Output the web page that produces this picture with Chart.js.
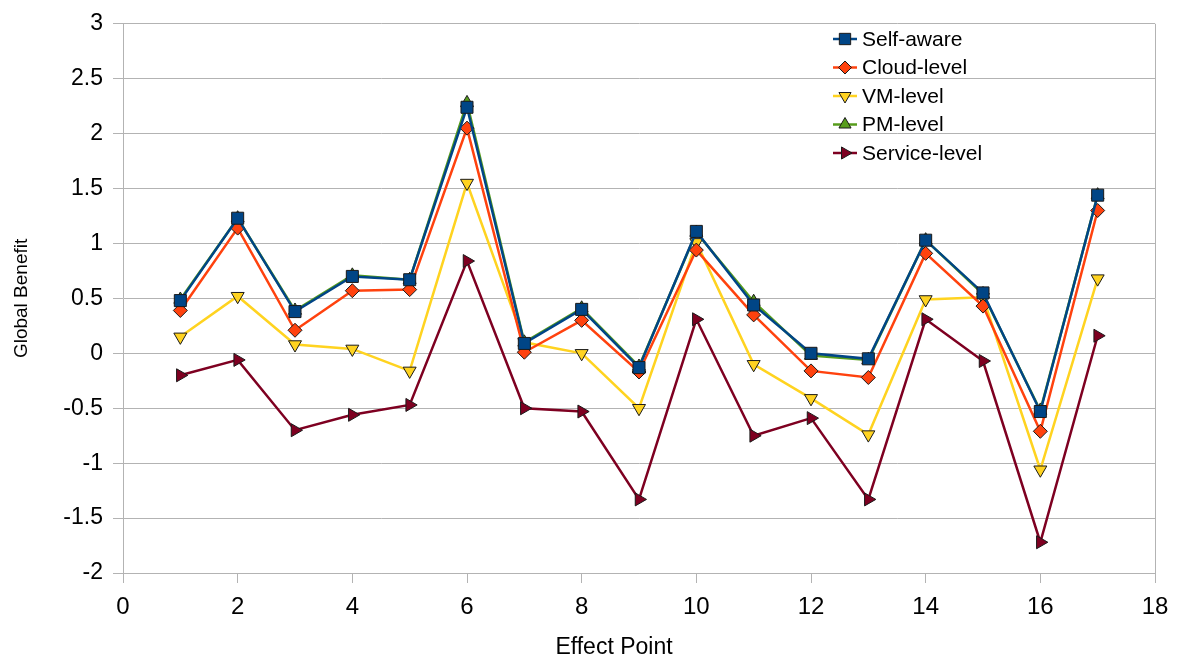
<!DOCTYPE html>
<html>
<head>
<meta charset="utf-8">
<script src="https://cdn.jsdelivr.net/npm/chart.js@4/dist/chart.umd.min.js"></script>
<style>
  html, body { margin: 0; padding: 0; background: #fff; }
</style>
</head>
<body>
<canvas id="myChart" width="1181" height="662"></canvas>
<script>
// Global benefit per effect point

const effectPoints = [1, 2, 3, 4, 5, 6, 7, 8, 9, 10, 11, 12, 13, 14, 15, 16, 17];

const selfAware = [0.48, 1.23, 0.38, 0.70, 0.67, 2.24, 0.09, 0.40, -0.13, 1.11, 0.44, 0.00, -0.05, 1.03, 0.55, -0.53, 1.44];
const cloudLevel = [0.39, 1.14, 0.21, 0.57, 0.58, 2.05, 0.01, 0.30, -0.17, 0.94, 0.35, -0.16, -0.22, 0.91, 0.43, -0.71, 1.30];
const vmLevel = [0.15, 0.52, 0.08, 0.04, -0.16, 1.55, 0.10, 0.00, -0.50, 1.01, -0.10, -0.41, -0.74, 0.49, 0.51, -1.06, 0.68];
const pmLevel = [0.49, 1.23, 0.39, 0.71, 0.67, 2.28, 0.10, 0.41, -0.12, 1.10, 0.47, -0.02, -0.06, 1.03, 0.54, -0.52, 1.44];
const serviceLevel = [-0.20, -0.06, -0.70, -0.56, -0.47, 0.84, -0.50, -0.53, -1.33, 0.31, -0.75, -0.59, -1.33, 0.31, -0.07, -1.72, 0.16];

const seriesNames = ["Self-aware", "Cloud-level", "VM-level", "PM-level", "Service-level"];
const seriesValues = [selfAware, cloudLevel, vmLevel, pmLevel, serviceLevel];
const seriesColors = ["#004586", "#ff420e", "#ffd320", "#579d1c", "#7e0021"];
const seriesMarkers = ["rect", "rectRot", "triangle", "triangle", "triangle"];
const markerRotation = [0, 0, 180, 0, 90];
const markerRadius = [8.5, 7, 7.5, 7.5, 7.5];

const font = "'Liberation Sans', Arial, sans-serif";
const gridGray = "#b3b3b3";

function toPoints(values) {
  return values.map((v, i) => ({ x: effectPoints[i], y: v }));
}

// legend sits inside the plot, top right, like the original
// x axis title is drawn here too, it is not centred on the plot in the original
const insideLegend = {
  id: "insideLegend",
  afterDraw(chart) {
    const ctx = chart.ctx;
    ctx.save();
    chart.data.datasets.forEach((ds, i) => {
      const y = 39 + i * 28.5;
      ctx.strokeStyle = ds.borderColor;
      ctx.lineWidth = 2.5;
      ctx.beginPath();
      ctx.moveTo(833, y);
      ctx.lineTo(857, y);
      ctx.stroke();

      ctx.fillStyle = ds.backgroundColor;
      ctx.strokeStyle = "#1a1a1a";
      ctx.lineWidth = 1;
      Chart.helpers.drawPoint(ctx, {
        pointStyle: ds.pointStyle,
        radius: ds.pointRadius - 0.5,
        rotation: ds.pointRotation,
        borderWidth: 1
      }, 845, y);

      ctx.fillStyle = "#000";
      ctx.font = "21px " + font;
      ctx.textBaseline = "middle";
      ctx.textAlign = "left";
      ctx.fillText(ds.label, 862, y + 1);
    });

    ctx.font = "23px " + font;
    ctx.fillStyle = "#000";
    ctx.textAlign = "center";
    ctx.textBaseline = "middle";
    ctx.fillText("Effect Point", 614, 648);
    ctx.restore();
  }
};

const ctx = document.getElementById("myChart");

new Chart(ctx, {
  type: "line",
  data: {
    datasets: seriesNames.map((name, i) => ({
      label: name,
      data: toPoints(seriesValues[i]),
      borderColor: seriesColors[i],
      backgroundColor: seriesColors[i],
      borderWidth: 2.5,
      pointStyle: seriesMarkers[i],
      pointRotation: markerRotation[i],
      pointRadius: markerRadius[i],
      pointBorderColor: "#1a1a1a",
      pointBorderWidth: 1,
      tension: 0
    }))
  },
  options: {
    responsive: false,
    animation: false,
    layout: { padding: { top: 22, right: 26, left: 0, bottom: 0 } },
    plugins: {
      legend: { display: false },
      tooltip: { enabled: false }
    },
    scales: {
      x: {
        type: "linear",
        min: 0,
        max: 18,
        ticks: { stepSize: 2, color: "#000", font: { family: font, size: 24 }, padding: 10 },
        grid: {
          color: (c) => (c.tick && c.tick.value === 18 ? gridGray : "rgba(0,0,0,0)"),
          tickColor: gridGray,
          tickLength: 10
        },
        border: { color: gridGray },
        afterFit: (s) => { s.height = 89; }
      },
      y: {
        min: -2,
        max: 3,
        ticks: {
          stepSize: 0.5,
          color: "#000",
          font: { family: font, size: 23 },
          padding: 10,
          callback: (v) => String(v)
        },
        grid: { color: gridGray, tickColor: gridGray, tickLength: 10 },
        border: { color: gridGray },
        title: { display: true, text: "Global Benefit", color: "#000", font: { family: font, size: 19 }, padding: { top: 10, bottom: 0 } },
        afterFit: (s) => { s.width = 123; }
      }
    }
  },
  plugins: [insideLegend]
});
</script>
</body>
</html>
